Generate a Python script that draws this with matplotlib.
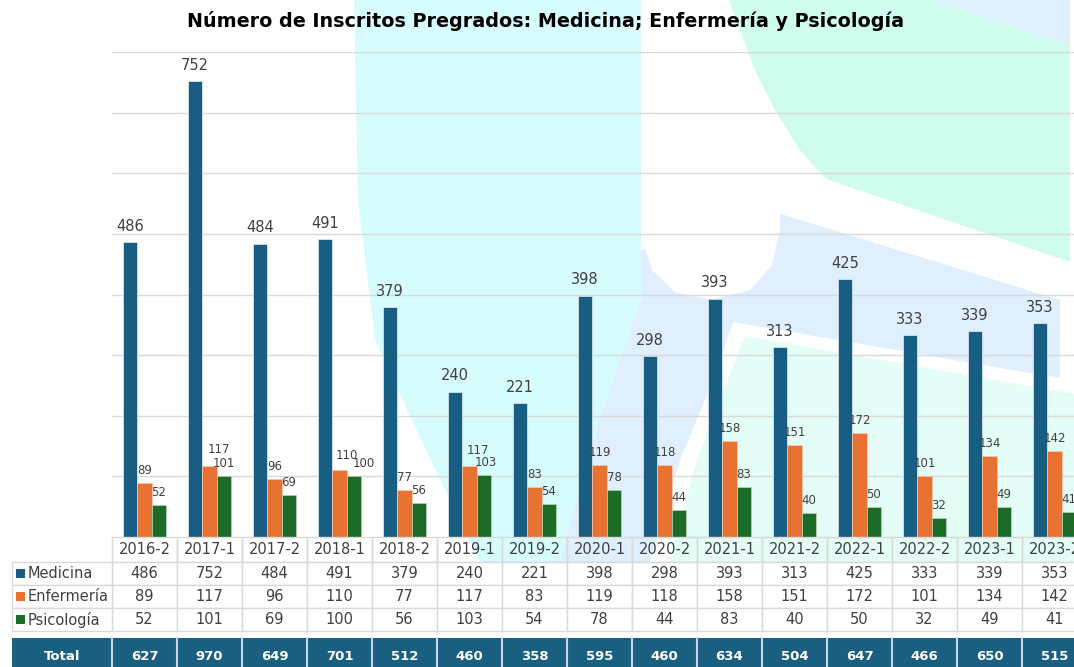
import matplotlib.pyplot as plt
import numpy as np
from matplotlib.patches import Rectangle, Polygon

plt.rcParams['font.family'] = ['DejaVu Sans']

# datos
periodos = ['2016-2', '2017-1', '2017-2', '2018-1', '2018-2', '2019-1', '2019-2', '2020-1',
            '2020-2', '2021-1', '2021-2', '2022-1', '2022-2', '2023-1', '2023-2']
medicina = [486, 752, 484, 491, 379, 240, 221, 398, 298, 393, 313, 425, 333, 339, 353]
enfermeria = [89, 117, 96, 110, 77, 117, 83, 119, 118, 158, 151, 172, 101, 134, 142]
psicologia = [52, 101, 69, 100, 56, 103, 54, 78, 44, 83, 40, 50, 32, 49, 41]
totales = [627, 970, 649, 701, 512, 460, 358, 595, 460, 634, 504, 647, 466, 650, 515]
series = ['Medicina', 'Enfermería', 'Psicología']

c_med = '#175e82'
c_enf = '#e87232'
c_psi = '#1c6b26'
c_txt = '#404040'
c_grid = '#d9d9d9'

W, H = 1074, 667
fig = plt.figure(figsize=(W / 100, H / 100), dpi=100)

# marca de agua de fondo (coordenadas en pixeles)
bg = fig.add_axes([0, 0, 1, 1], zorder=-1)
bg.set_xlim(0, W)
bg.set_ylim(H, 0)
bg.axis('off')
formas = [
    ('#d6fcfd', [(354, 0), (641, 0), (641, 300), (610, 400), (560, 562), (480, 562),
                 (425, 448), (375, 340), (358, 200)]),
    ('#dfeffd', [(641, 250), (781, 214), (1060, 300), (1060, 378), (733, 322), (705, 400),
                 (680, 460), (650, 562), (560, 562), (600, 420), (641, 300)]),
    ('#ffffff', [(641, 0), (780, 0), (780, 230), (772, 265), (750, 290), (710, 300),
                 (675, 292), (652, 270), (643, 240)]),
    ('#cffcec', [(729, 0), (933, 0), (1070, 45), (1070, 262), (826, 179), (800, 150),
                 (775, 110), (755, 70), (740, 30)]),
    ('#dfeffd', [(933, 0), (1070, 0), (1070, 45)]),
    ('#e4fdf6', [(745, 336), (1074, 394), (1074, 562), (668, 562), (697, 460), (720, 400)]),
]
for color, pts in formas:
    bg.add_patch(Polygon(pts, closed=True, fc=color, ec='none'))

# grafico principal
ax = fig.add_axes([112 / W, (H - 537) / H, 975 / W, 485 / H])
ax.patch.set_alpha(0)
x = np.arange(len(periodos))
w = 0.223
b1 = ax.bar(x - w, medicina, w, color=c_med, edgecolor='#e6eef2', linewidth=0.5, zorder=3)
b2 = ax.bar(x, enfermeria, w, color=c_enf, edgecolor='#f5c9ad', linewidth=0.5, zorder=3)
b3 = ax.bar(x + w, psicologia, w, color=c_psi, edgecolor='#b9d3bc', linewidth=0.5, zorder=3)
ax.bar_label(b1, padding=6, fontsize=10.5, color=c_txt)

# etiquetas pequeñas, algunas desplazadas para que no choquen (pixeles)
mover_enf = {1: (9, 4), 3: (7, 2), 5: (8, 3)}
mover_psi = {3: (10, 0), 5: (2, 0)}
for barras, mover in [(b2, mover_enf), (b3, mover_psi)]:
    for i, rect in enumerate(barras):
        dx, dy = mover.get(i, (0, 0))
        ax.annotate(str(int(rect.get_height())),
                    (rect.get_x() + rect.get_width() / 2, rect.get_height()),
                    xytext=(dx, 6 + dy), textcoords='offset pixels',
                    ha='center', va='bottom', fontsize=8.5, color=c_txt, zorder=4)

ax.set_xlim(-0.5, len(periodos) - 0.5)
ax.set_ylim(0, 800)
ax.set_yticks(range(100, 801, 100))
ax.yaxis.grid(True, color=c_grid, linewidth=1)
ax.set_axisbelow(True)
ax.tick_params(left=False, bottom=False, labelleft=False, labelbottom=False)
for s in ax.spines.values():
    s.set_visible(False)

# tabla de datos bajo el grafico
tr = ax.get_xaxis_transform()


def yax(py):
    return (537 - py) / 485


x_izq = (12 - 112) / 65 - 0.5
filas = [(537, 562), (562, 585), (585, 608), (608, 631)]
valores = [periodos, medicina, enfermeria, psicologia]
colores = [c_med, c_enf, c_psi]

for r, (top, bot) in enumerate(filas):
    yc = yax((top + bot) / 2)
    for i in range(len(periodos)):
        ax.add_patch(Rectangle((i - 0.5, yax(bot)), 1, yax(top) - yax(bot), transform=tr,
                               fc='white' if r > 0 else 'none', ec=c_grid, lw=1,
                               clip_on=False, zorder=4))
        ax.text(i, yc, str(valores[r][i]), transform=tr, ha='center', va='center',
                fontsize=10.5, color=c_txt, zorder=5)
    if r > 0:
        ax.add_patch(Rectangle((x_izq, yax(bot)), -0.5 - x_izq, yax(top) - yax(bot),
                               transform=tr, fc='white', ec=c_grid, lw=1,
                               clip_on=False, zorder=4))
        ax.add_patch(Rectangle((x_izq + 0.06, yc - 0.0095), 0.14, 0.019, transform=tr,
                               fc=colores[r - 1], ec='none', clip_on=False, zorder=5))
        ax.text(x_izq + 0.24, yc, series[r - 1], transform=tr, ha='left', va='center',
                fontsize=10.5, color=c_txt, zorder=5)

# fila de totales
t_top, t_bot = 638, 676
ax.add_patch(Rectangle((x_izq, yax(t_bot)), len(periodos) + 1 - x_izq, yax(t_top) - yax(t_bot),
                       transform=tr, fc='#1a5e80', ec='none', clip_on=False, zorder=4))
for i in range(len(periodos) + 1):
    ax.plot([i - 0.5, i - 0.5], [yax(t_top), yax(t_bot)], transform=tr, color='#c9d6df',
            lw=1.5, clip_on=False, zorder=5)
yt = yax((t_top + t_bot) / 2)
ax.text((x_izq - 0.5) / 2, yt, 'Total', transform=tr, ha='center', va='center',
        fontsize=9.5, fontweight='bold', color='white', zorder=6)
for i, v in enumerate(totales):
    ax.text(i, yt, str(v), transform=tr, ha='center', va='center',
            fontsize=9.5, fontweight='bold', color='white', zorder=6)

fig.text(546 / W, 1 - 21 / H, 'Número de Inscritos Pregrados: Medicina; Enfermería y Psicología',
         ha='center', va='center', fontsize=13.8, fontweight='bold', color='black')

plt.savefig('out.png', dpi=100)
plt.close()
